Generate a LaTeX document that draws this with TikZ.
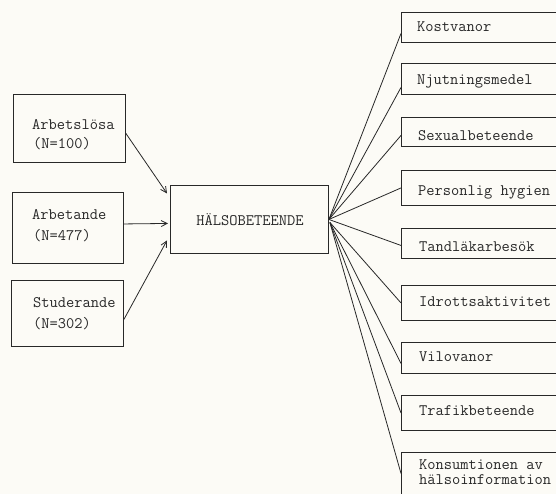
\documentclass[tikz,border=0pt]{standalone}
\usepackage{fontspec}
\usetikzlibrary{arrows.meta}
\definecolor{paper}{RGB}{252,251,246}
\definecolor{ink}{RGB}{40,40,40}
\tikzset{
  box/.style={draw=ink, line width=0.9pt, anchor=north west, inner sep=0pt},
  txt/.style={font=\ttfamily\fontsize{16}{16}\selectfont, text=ink, inner sep=0pt, anchor=west},
  conn/.style={draw=ink, line width=0.8pt},
  arr/.style={conn, -{Straight Barb[length=6pt,width=6pt]}},
}
\begin{document}
\begin{tikzpicture}[x=1pt,y=-1pt]
\fill[paper] (0,0) rectangle (556,494);
\clip (0,0) rectangle (556,494);
% left boxes
\node[box, minimum width=112, minimum height=68] (l1) at (13,94) {};
\node[box, minimum width=111, minimum height=71] (l2) at (12,192) {};
\node[box, minimum width=112, minimum height=66] (l3) at (11,280) {};
\node[txt] (t1a) at (32,125) {Arbetslösa};
\node[txt] (t1b) at (33,144) {(N=100)};
\node[txt] (t2a) at (32,215) {Arbetande};
\node[txt] (t2b) at (33,236) {(N=477)};
\node[txt] (t3a) at (33,303) {Studerande};
\node[txt] (t3b) at (33,324) {(N=302)};
% centre box
\node[box, minimum width=158, minimum height=68] (c) at (170,185) {};
\node[txt, anchor=center] (ct) at (250,220) {HÄLSOBETEENDE};
% right boxes
\node[box, minimum width=161, minimum height=30] (r1) at (401,12) {};
\node[box, minimum width=161, minimum height=31] (r2) at (401,63) {};
\node[box, minimum width=161, minimum height=29] (r3) at (401,117) {};
\node[box, minimum width=161, minimum height=35] (r4) at (401,170) {};
\node[box, minimum width=161, minimum height=30] (r5) at (401,228) {};
\node[box, minimum width=161, minimum height=35] (r6) at (401,285) {};
\node[box, minimum width=161, minimum height=31] (r7) at (401,342) {};
\node[box, minimum width=161, minimum height=35] (r8) at (401,395) {};
\node[box, minimum width=161, minimum height=48] (r9) at (401,452) {};
\node[txt] (s1) at (417,27) {Kostvanor};
\node[txt] (s2) at (417,81) {Njutningsmedel};
\node[txt] (s3) at (418,136) {Sexualbeteende};
\node[txt] (s4) at (418,192) {Personlig hygien};
\node[txt] (s5) at (419,247) {Tandläkarbesök};
\node[txt] (s6) at (419,302) {Idrottsaktivitet};
\node[txt] (s7) at (419,357) {Vilovanor};
\node[txt] (s8) at (419,411) {Trafikbeteende};
\node[txt, align=left, font=\ttfamily\fontsize{16}{15.5}\selectfont] (s9) at (419,472) {Konsumtionen av\\hälsoinformation};
% arrows into centre
\draw[arr] ([yshift=-5pt]l1.east) -- ([xshift=-3pt,yshift=26pt]c.west);
\draw[arr] ([yshift=4pt]l2.east) -- ([xshift=-2pt,yshift=-4pt]c.west);
\draw[arr] ([yshift=-6pt]l3.east) -- ([xshift=-3pt,yshift=-21pt]c.west);
% fan out
\draw[conn] (c.east) -- ([yshift=-6pt]r1.west);
\draw[conn] (c.east) -- ([yshift=-8.5pt]r2.west);
\draw[conn] (c.east) -- ([yshift=-3.5pt]r3.west);
\draw[conn] (c.east) -- (r4.west);
\draw[conn] (c.east) -- ([yshift=-2pt]r5.west);
\draw[conn] ([xshift=1pt,yshift=-3pt]c.east) -- (r6.west);
\draw[conn] ([xshift=1pt,yshift=-3pt]c.east) -- ([yshift=-5.5pt]r7.west);
\draw[conn] ([xshift=1pt,yshift=-3pt]c.east) -- (r8.west);
\draw[conn] ([xshift=1pt,yshift=-3pt]c.east) -- ([yshift=3pt]r9.west);
\end{tikzpicture}
\end{document}
